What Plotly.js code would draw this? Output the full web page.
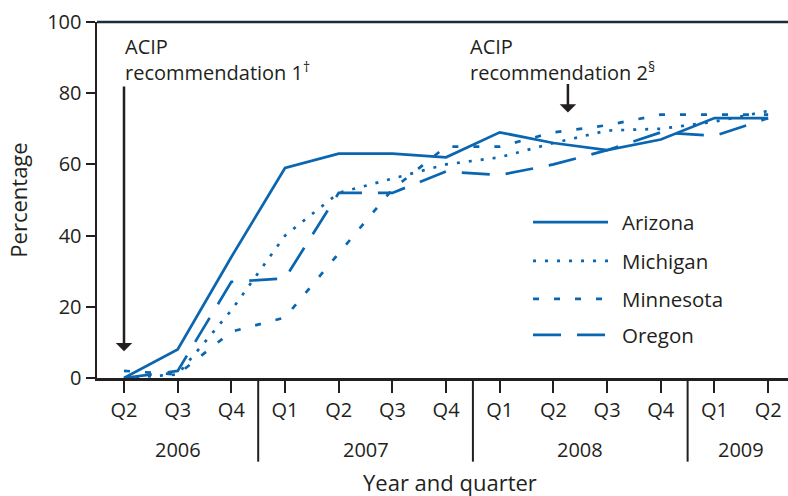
<!DOCTYPE html>
<html>
<head>
<meta charset="utf-8">
<script src="https://cdn.plot.ly/plotly-3.0.1.min.js"></script>
<style>html,body{margin:0;padding:0;background:#fff}</style>
</head>
<body>
<div id="chart" style="width:788px;height:496px"></div>
<script>
// ---- data ----
const quarters = ['Q2','Q3','Q4','Q1','Q2','Q3','Q4','Q1','Q2','Q3','Q4','Q1','Q2'];
const years = ['2006','2007','2008','2009'];
const yearCenters = [1, 4.5, 8.5, 11.5];
const yearBreaks = [2.5, 6.5, 10.5];
const arizona   = [0, 8, 34, 59, 63, 63, 62, 69, 66, 64, 67, 73, 73];
const michigan  = [0, 1, 19, 40, 52, 56, 60, 62, 66, 69.5, 70, 72, 75];
const minnesota = [2, 1, 13, 17, 35, 53, 65, 65, 69, 71, 74, 74, 74];
const oregon    = [0, 2, 27, 28, 52, 52, 58, 57, 60, 64, 69, 68, 73];
const seriesNames = ['Arizona','Michigan','Minnesota','Oregon'];
const yTicks = [0, 20, 40, 60, 80, 100];

// ---- styles ----
const BLUE = '#0a66b0';
const INK = '#231f20';
const FONT = 'Open Sans, sans-serif';
const dashes = ['solid', '3px,9px', '6px,15px', '28px,16px'];
const xIdx = quarters.map((_, i) => i);
const allSeries = [arizona, michigan, minnesota, oregon];

const traces = allSeries.map((vals, k) => ({
  type: 'scatter', mode: 'lines', x: xIdx, y: vals, name: seriesNames[k],
  line: {color: BLUE, width: 2.7, dash: dashes[k]}, showlegend: false, hoverinfo: 'skip'
}));

const shapes = [];
const annotations = [];

// top border
shapes.push({type:'line', xref:'paper', yref:'paper', x0:0, x1:1, y0:1, y1:1,
  line:{color:'#1d2b38', width:2.5}});
// year separators
yearBreaks.forEach(b => shapes.push({type:'line', xref:'x', yref:'paper', x0:b, x1:b, y0:0, y1:-0.235,
  line:{color:INK, width:2}}));
// year labels
years.forEach((yr, i) => annotations.push({xref:'x', yref:'paper', x:yearCenters[i], y:-0.2,
  text:yr, showarrow:false, font:{family:FONT, size:20, color:INK}, xanchor:'center', yanchor:'middle'}));
// x title
annotations.push({xref:'paper', yref:'paper', x:0.511, y:-0.292, text:'Year and quarter', showarrow:false,
  font:{family:FONT, size:22, color:INK}, xanchor:'center', yanchor:'middle'});

// custom legend
const legY = [0.438, 0.329, 0.222, 0.121];
seriesNames.forEach((nm, k) => {
  shapes.push({type:'line', xref:'paper', yref:'paper', x0:0.631, x1:0.7395, y0:legY[k], y1:legY[k],
    line:{color:BLUE, width:2.7, dash:dashes[k]}});
  annotations.push({xref:'paper', yref:'paper', x:0.757, y:legY[k], text:nm, showarrow:false,
    font:{family:FONT, size:20.5, color:INK}, xanchor:'left', yanchor:'middle'});
});

// ACIP annotations
annotations.push({xref:'paper', yref:'paper', x:0.0376, y:0.975, xanchor:'left', yanchor:'top', align:'left',
  text:'ACIP<br>recommendation 1<sup>†</sup>', showarrow:false, font:{family:FONT, size:20, color:INK}});
annotations.push({xref:'paper', yref:'paper', x:0.537, y:0.975, xanchor:'left', yanchor:'top', align:'left',
  text:'ACIP<br>recommendation 2<sup>§</sup>', showarrow:false, font:{family:FONT, size:20, color:INK}});
// arrows
annotations.push({xref:'x', yref:'y', axref:'x', ayref:'y', x:0, y:7.5, ax:0, ay:82.3, text:'',
  showarrow:true, arrowhead:1, arrowsize:1.1, arrowwidth:2.5, arrowcolor:INK});
annotations.push({xref:'x', yref:'y', axref:'x', ayref:'y', x:8.27, y:74.6, ax:8.27, ay:83, text:'',
  showarrow:true, arrowhead:1, arrowsize:1.1, arrowwidth:2.5, arrowcolor:INK});

const layout = {
  width: 788, height: 496,
  margin: {l:97, r:0, t:22, b:118},
  paper_bgcolor:'#fff', plot_bgcolor:'#fff',
  font:{family:FONT, color:INK},
  showlegend:false,
  xaxis: {range:[-0.503, 12.37], tickmode:'array', tickvals:xIdx, ticktext:quarters,
    ticks:'outside', ticklen:12, tickwidth:2, tickcolor:INK,
    showline:true, linecolor:INK, linewidth:2.5, showgrid:false, zeroline:false,
    tickfont:{family:FONT, size:20, color:INK}, fixedrange:true},
  yaxis: {range:[0, 100], tickmode:'array', tickvals:yTicks,
    ticks:'outside', ticklen:9, tickwidth:2, tickcolor:INK,
    showline:true, linecolor:INK, linewidth:2.5, showgrid:false, zeroline:false,
    tickfont:{family:FONT, size:20, color:INK},
    title:{text:'Percentage', font:{family:FONT, size:22, color:INK}, standoff:14}, fixedrange:true},
  shapes: shapes,
  annotations: annotations
};

Plotly.newPlot('chart', traces, layout, {displayModeBar:false, staticPlot:true});
</script>
</body>
</html>
